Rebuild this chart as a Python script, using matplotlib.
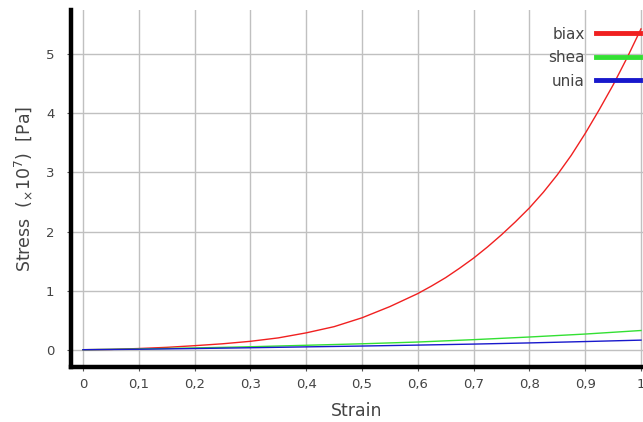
import numpy as np
import matplotlib
matplotlib.use("Agg")
import matplotlib.pyplot as plt

strain_biax = [0.0, 0.05, 0.1, 0.15, 0.2, 0.25, 0.3, 0.35, 0.4, 0.45, 0.5,
               0.55, 0.6, 0.625, 0.65, 0.675, 0.7, 0.725, 0.75, 0.775, 0.8,
               0.825, 0.85, 0.875, 0.9, 0.925, 0.95, 0.975, 1.0]
# Stress (x10^7 Pa)
biax = [0.0, 0.005, 0.02, 0.04, 0.068, 0.1, 0.142, 0.2, 0.285, 0.39, 0.54,
        0.73, 0.95, 1.08, 1.22, 1.38, 1.55, 1.74, 1.945, 2.165, 2.40,
        2.665, 2.96, 3.29, 3.66, 4.06, 4.48, 4.94, 5.43]

strain = [0.0, 0.1, 0.2, 0.3, 0.4, 0.5, 0.6, 0.7, 0.8, 0.9, 1.0]
shea = [0.0, 0.012, 0.03, 0.05, 0.075, 0.10, 0.13, 0.17, 0.215, 0.265, 0.325]
unia = [0.0, 0.008, 0.02, 0.033, 0.048, 0.062, 0.078, 0.095, 0.115, 0.138,
        0.162]

x_ticks = [0, 0.1, 0.2, 0.3, 0.4, 0.5, 0.6, 0.7, 0.8, 0.9, 1]
x_tick_labels = ["0", "0,1", "0,2", "0,3", "0,4", "0,5", "0,6", "0,7",
                 "0,8", "0,9", "1"]
y_ticks = [0, 1, 2, 3, 4, 5]

text_col = "#444444"

fig = plt.figure(figsize=(6.43, 4.22), dpi=100)
ax = fig.add_axes([0.1104, 0.1303, 0.8896, 0.8460])

ax.plot(strain_biax, biax, color="#f02020", lw=1.0, label="biax")
ax.plot(strain, shea, color="#33e033", lw=1.0, label="shea")
ax.plot(strain, unia, color="#1818cc", lw=1.0, label="unia")

ax.set_xlim(-0.0215, 1.0036)
ax.set_ylim(-0.293, 5.75)
ax.set_xticks(x_ticks)
ax.set_xticklabels(x_tick_labels)
ax.set_yticks(y_ticks)

ax.grid(True, color="#c0c0c0", lw=1.0)
ax.set_axisbelow(True)

for side in ["top", "right"]:
    ax.spines[side].set_visible(False)
for side in ["left", "bottom"]:
    ax.spines[side].set_linewidth(3.2)
    ax.spines[side].set_color("black")

ax.tick_params(axis="both", labelsize=9.5, colors=text_col, length=3,
               width=0.8)
ax.tick_params(axis="both", color="#555555")
ax.tick_params(axis="y", pad=9)
ax.tick_params(axis="x", pad=5)

ax.set_xlabel("Strain", fontsize=12.5, color=text_col, labelpad=8)
ax.set_ylabel(r"Stress  ($_{\times}10^{7}$)  [Pa]", fontsize=12.5,
              color=text_col, labelpad=8)

leg = ax.legend(loc="upper right", bbox_to_anchor=(0.9948, 0.953),
                frameon=False, markerfirst=False, fontsize=11,
                handlelength=2.85, handletextpad=0.78, labelspacing=0.55,
                borderaxespad=0, borderpad=0)
for line in leg.get_lines():
    line.set_linewidth(3.5)
for txt in leg.get_texts():
    txt.set_color(text_col)

plt.savefig("out.png", dpi=100)
